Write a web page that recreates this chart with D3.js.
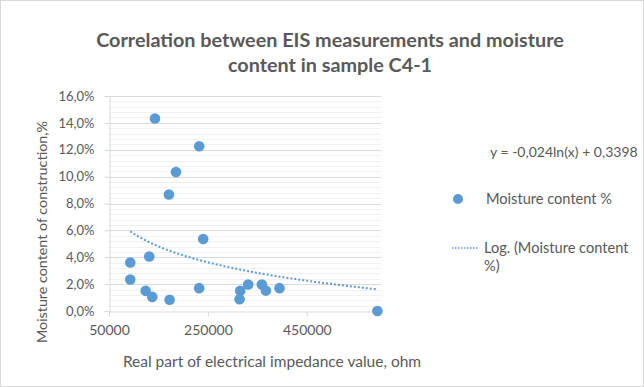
<!DOCTYPE html>
<html>
<head>
<meta charset="utf-8">
<script src="https://cdn.jsdelivr.net/npm/d3@7"></script>
<style>
  body { margin: 0; background: #fff; }
  text { font-family: Lato, "Open Sans", sans-serif; fill: #595959; }
</style>
</head>
<body>
<svg id="chart"></svg>
<script>
// chart values
const impedance = [93000, 93000, 124100, 131400, 137500, 143000, 171200, 172600,
                   185400, 232400, 232400, 240500, 314000, 315300, 331400, 359100,
                   367200, 394800, 592800];
const moisture  = [0.0361, 0.0234, 0.0150, 0.0406, 0.0105, 0.1433, 0.0867, 0.0084,
                   0.1034, 0.1226, 0.0170, 0.0536, 0.0087, 0.0150, 0.0197, 0.0197,
                   0.0152, 0.0170, 0.0000];
const xTicks = [50000, 250000, 450000];
const yTicks = [0, 0.02, 0.04, 0.06, 0.08, 0.10, 0.12, 0.14, 0.16];
const titleLines = ["Correlation between EIS measurements and moisture",
                    "content in sample C4-1"];
const equationLabel = "y = -0,024ln(x) + 0,3398";
const seriesName = "Moisture content %";
const trendName = ["Log. (Moisture content", "%)"];

const width = 644, height = 387;
const blue = "#5b9bd5";

const svg = d3.select("#chart").attr("width", width).attr("height", height);

// outer chart frame
svg.append("rect")
  .attr("x", 0.5).attr("y", 0.5)
  .attr("width", width - 1).attr("height", height - 1)
  .attr("fill", "#fff").attr("stroke", "#d9d9d9");

const plot = { left: 109, right: 381, top: 96, bottom: 311 };

const x = d3.scaleLinear().domain([50000, 600000]).range([plot.left, plot.right]);
const y = d3.scaleLinear().domain([0, 0.16]).range([plot.bottom, plot.top]);

const locale = d3.formatLocale({ decimal: ",", thousands: " ", grouping: [3], currency: ["", ""] });
const pct = locale.format(".1%");

// minor gridlines
svg.append("g")
  .selectAll("line")
  .data(d3.range(0.004, 0.16, 0.004).filter(v => Math.round(v * 1000) % 20 !== 0))
  .join("line")
  .attr("x1", plot.left).attr("x2", plot.right)
  .attr("y1", d => Math.round(y(d)) + 0.5).attr("y2", d => Math.round(y(d)) + 0.5)
  .attr("stroke", "#f0f0f0");

// major gridlines
svg.append("g")
  .selectAll("line")
  .data(yTicks.slice(1))
  .join("line")
  .attr("x1", plot.left).attr("x2", plot.right)
  .attr("y1", d => Math.round(y(d)) + 0.5).attr("y2", d => Math.round(y(d)) + 0.5)
  .attr("stroke", "#d9d9d9");

// y axis
const yAxis = svg.append("g")
  .attr("transform", `translate(${plot.left + 0.5},0)`)
  .call(d3.axisLeft(y).tickValues(yTicks).tickFormat(pct).tickSize(5).tickSizeOuter(0).tickPadding(10));
yAxis.select(".domain").attr("stroke", "#d9d9d9");
yAxis.selectAll(".tick line").attr("stroke", "#d9d9d9");
yAxis.selectAll(".tick text").attr("font-size", 13).attr("fill", "#595959")
  .style("font-family", "Lato, sans-serif");

// x axis
const xAxis = svg.append("g")
  .attr("transform", `translate(0,${plot.bottom + 0.5})`)
  .call(d3.axisBottom(x).tickValues(xTicks).tickFormat(d3.format("d")).tickSize(5).tickSizeOuter(0).tickPadding(9));
xAxis.select(".domain").attr("stroke", "#d9d9d9");
xAxis.selectAll(".tick line").attr("stroke", "#d9d9d9");
xAxis.selectAll(".tick text").attr("font-size", 14).attr("fill", "#595959")
  .style("font-family", "Lato, sans-serif");

// log trendline fitted to the points (least squares on ln x)
const lx = impedance.map(Math.log);
const mx = d3.mean(lx), my = d3.mean(moisture);
const slope = d3.sum(lx, (v, i) => (v - mx) * (moisture[i] - my)) / d3.sum(lx, v => (v - mx) ** 2);
const intercept = my - slope * mx;
const [xmin, xmax] = d3.extent(impedance);
const trend = d3.range(0, 101).map(i => {
  const xv = xmin + (xmax - xmin) * i / 100;
  return [xv, slope * Math.log(xv) + intercept];
});

svg.append("path")
  .datum(trend)
  .attr("fill", "none")
  .attr("stroke", blue)
  .attr("stroke-width", 2)
  .attr("stroke-dasharray", "2,2")
  .attr("d", d3.line().x(d => x(d[0])).y(d => y(d[1])));

// points
svg.append("g")
  .selectAll("circle")
  .data(impedance.map((v, i) => [v, moisture[i]]))
  .join("circle")
  .attr("cx", d => x(d[0]))
  .attr("cy", d => y(d[1]))
  .attr("r", 5.3)
  .attr("fill", blue);

// title
svg.append("text")
  .attr("text-anchor", "middle")
  .attr("font-size", 19.8).attr("font-weight", "bold")
  .selectAll("tspan")
  .data(titleLines)
  .join("tspan")
  .attr("x", 330)
  .attr("y", (d, i) => 47 + i * 25)
  .text(d => d);

// axis titles
svg.append("text")
  .attr("text-anchor", "middle")
  .attr("font-size", 14.3)
  .attr("transform", "translate(47,232) rotate(-90)")
  .text("Moisture content of construction,%");

svg.append("text")
  .attr("text-anchor", "middle")
  .attr("font-size", 15.5)
  .attr("x", 272).attr("y", 367)
  .text("Real part of electrical impedance value, ohm");

// equation and legend
svg.append("text")
  .attr("x", 490).attr("y", 157)
  .attr("font-size", 14)
  .text(equationLabel);

svg.append("circle")
  .attr("cx", 458).attr("cy", 199).attr("r", 5)
  .attr("fill", blue);
svg.append("text")
  .attr("x", 486).attr("y", 204)
  .attr("font-size", 14.6)
  .text(seriesName);

svg.append("line")
  .attr("x1", 452).attr("x2", 478)
  .attr("y1", 248).attr("y2", 248)
  .attr("stroke", blue).attr("stroke-width", 1.5)
  .attr("stroke-dasharray", "1.5,1.5");
svg.append("text")
  .attr("font-size", 14.6)
  .selectAll("tspan")
  .data(trendName)
  .join("tspan")
  .attr("x", 484)
  .attr("y", (d, i) => 253 + i * 18)
  .text(d => d);
</script>
</body>
</html>
